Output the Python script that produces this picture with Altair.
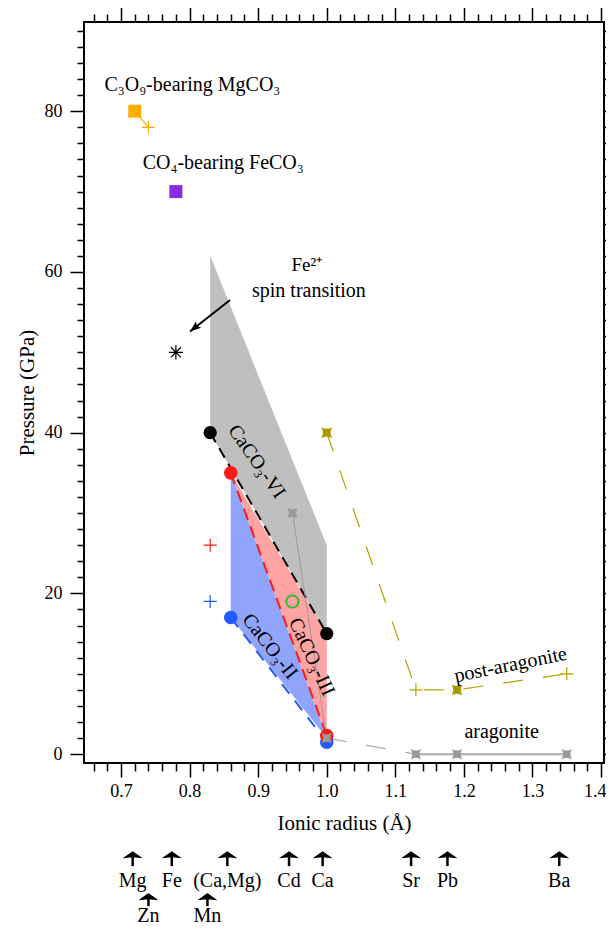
import altair as alt
import pandas as pd

FONT = "Liberation Serif"

# ---------------- data ----------------
# stability fields: x = ionic radius (Å), upper / lower pressure (GPa)
gray_x = [0.83, 1.00]; gray_hi = [62, 26]; gray_lo = [40, 15]
pink_x = [0.86, 1.00]; pink_hi = [35, 15]; pink_lo = [35, 2]
blue_x = [0.86, 1.00]; blue_hi = [35, 2];  blue_lo = [17, 2]

# lines
orange_lx = [0.72, 0.74]; orange_ly = [80, 78]
black_lx = [0.83, 1.00];  black_ly = [40, 15]
red_lx = [0.86, 1.00];    red_ly = [35, 2.3]
blue_lx = [0.86, 1.00];   blue_ly = [17, 1.5]
gthin_x = [0.95, 1.00];   gthin_y = [30, 2]
gdash_x = [1.00, 1.13];   gdash_y = [2, 0]
arag_x = [1.13, 1.19, 1.35]; arag_y = [0, 0, 0]
post_x = [1.00, 1.13, 1.19, 1.35]; post_y = [40, 8, 8, 10]

# points
mgco3_sq = ([0.72], [80]); mgco3_plus = ([0.74], [78])
feco3_sq = ([0.78], [70]); fe_aster = ([0.78], [50])
black_pts = ([0.83, 1.00], [40, 15])
red_pts = ([0.86, 1.00], [35, 2.3])
blue_pts = ([0.86, 1.00], [17, 1.5])
green_ring = ([0.95], [19])
red_plus = ([0.83], [26]); blue_plus = ([0.83], [19])
gray_star = ([0.95, 1.00, 1.13, 1.19, 1.35], [30, 2, 0, 0, 0])
olive_star = ([1.00, 1.19], [40, 8])
olive_plus = ([1.13, 1.35], [8, 10])

# spin-transition arrow (from, to)
spin_x = [0.859, 0.8006]; spin_y = [56.5, 52.6]

# cations (ionic radius read under the axis)
row1_names = ["Mg", "Fe", "(Ca,Mg)", "Cd", "Ca", "Sr", "Pb", "Ba"]
row1_x = [0.717, 0.774, 0.855, 0.945, 0.994, 1.123, 1.176, 1.339]
row2_names = ["Zn", "Mn"]
row2_x = [0.740, 0.826]

x_ticks = [round(0.66 + 0.02 * i, 2) for i in range(38)]
y_ticks = list(range(0, 92, 2))

# ---------------- scales / helpers ----------------
XS = alt.Scale(domain=[0.646, 1.4043], nice=False, zero=False)
YS = alt.Scale(domain=[-1.1, 91.1], nice=False, zero=False)

STAR = "M-1,-1 Q0,-0.4 1,-1 Q0.4,0 1,1 Q0,0.4 -1,1 Q-0.4,0 -1,-1 Z"
PLUS = "M-1,0 L1,0 M0,-1 L0,1"
ASTER = "M-1,0 L1,0 M0,-1 L0,1 M-0.71,-0.71 L0.71,0.71 M-0.71,0.71 L0.71,-0.71"
ARROW_UP = "M0,0 L1,0.72 L0,0.62 L-1,0.72 Z"
SPIN_HEAD = "M0,0 L0.6,1.6 L0,1.25 L-0.6,1.6 Z"


def X(f="x", axis=None):
    return alt.X(f, type="quantitative", scale=XS, axis=axis)


def Y(f="y", axis=None):
    return alt.Y(f, type="quantitative", scale=YS, axis=axis)


def area(xv, hi, lo, color):
    df = pd.DataFrame({"x": xv, "hi": hi, "lo": lo})
    return alt.Chart(df).mark_area(color=color, opacity=1, strokeWidth=0).encode(
        x=X(), y=Y("hi"), y2=alt.Y2("lo"))


def line(xv, yv, color, width, dash=None):
    mk = dict(color=color, strokeWidth=width)
    if dash:
        mk["strokeDash"] = dash
    df = pd.DataFrame({"x": xv, "y": yv, "o": list(range(len(xv)))})
    return alt.Chart(df).mark_line(**mk).encode(x=X(), y=Y(), order="o:Q")


def pts(xy, **mk):
    df = pd.DataFrame({"x": xy[0], "y": xy[1]})
    return alt.Chart(df).mark_point(**mk).encode(x=X(), y=Y())


def txt(xv, yv, t, size=20, angle=0):
    df = pd.DataFrame({"x": [xv], "y": [yv], "t": [t]})
    mk = dict(font=FONT, fontSize=size, color="black", align="center", baseline="middle")
    if angle:
        mk["angle"] = angle
    return alt.Chart(df).mark_text(**mk).encode(x=X(), y=Y(), text="t:N")


ORANGE = "#ffad00"
PURPLE = "#8a2be2"
RED = "#ff1a1a"
BLUE = "#1f5cff"
GREEN = "#22bb22"
GRAY = "#9a9a9a"
OLIVE = "#b3a300"

layers = []
# axes carriers
ax_df = pd.DataFrame({"x": [1.0], "y": [0.0]})
common = dict(grid=False, domain=False, tickColor="black", tickWidth=1.5,
              labelFont=FONT, labelFontSize=18, labelColor="black",
              titleFont=FONT, titleFontSize=21, titleColor="black",
              titleFontWeight="normal", labelOverlap=False, labelBound=False, labelFlush=False)
xmaj = "abs(datum.value*10 - round(datum.value*10)) < 0.001"
ymaj = "datum.value % 20 == 0"
last = "datum.value > 1.39"
axis_bl = alt.Chart(ax_df).mark_point(opacity=0).encode(
    x=X(axis=alt.Axis(orient="bottom", values=x_ticks, title="Ionic radius (Å)",
                      tickSize={"condition": {"test": xmaj, "value": 14}, "value": 8},
                      labelExpr=f"({xmaj}) ? format(datum.value, '.1f') : ''",
                      labelAlign={"condition": {"test": last, "value": "right"}, "value": "center"},
                      labelOffset={"condition": {"test": last, "value": 5}, "value": 0},
                      labelPadding=5, titlePadding=12, **common)),
    y=Y(axis=alt.Axis(orient="left", values=y_ticks, title="Pressure (GPa)",
                      tickSize={"condition": {"test": ymaj, "value": 14}, "value": 7},
                      labelExpr=f"({ymaj}) ? datum.label : ''",
                      labelPadding=8, titlePadding=7, **common)))
axis_tr = alt.Chart(ax_df).mark_point(opacity=0).encode(
    x=X(axis=alt.Axis(orient="top", values=x_ticks, title=None, labels=False,
                      tickSize={"condition": {"test": xmaj, "value": 15}, "value": 8},
                      **common)),
    y=Y(axis=alt.Axis(orient="right", values=y_ticks, title=None, labels=False,
                      tickSize=3, **common)))
layers += [axis_bl, axis_tr]

# fields
layers += [area(gray_x, gray_hi, gray_lo, "#bfbfbf"),
           area(pink_x, pink_hi, pink_lo, "#ffa3a3"),
           area(blue_x, blue_hi, blue_lo, "#91a4fb")]

# lines
layers += [line(orange_lx, orange_ly, ORANGE, 1.2),
           line(black_lx, black_ly, "black", 2, [11, 7]),
           line(red_lx, red_ly, RED, 2, [12, 7]),
           line(blue_lx, blue_ly, BLUE, 2, [12, 9]),
           line(gthin_x, gthin_y, GRAY, 1),
           line(gdash_x, gdash_y, GRAY, 1, [20, 20]),
           line(arag_x, arag_y, "#b8b8b8", 2.5),
           line(post_x, post_y, OLIVE, 1.2, [20, 20])]

# points
layers += [pts(mgco3_sq, shape="square", filled=True, color=ORANGE, size=169, opacity=1),
           pts(mgco3_plus, shape=PLUS, filled=False, color=ORANGE, size=169, strokeWidth=1.2, opacity=1),
           pts(feco3_sq, shape="square", filled=True, color=PURPLE, size=169, opacity=1),
           pts(fe_aster, shape=ASTER, filled=False, color="black", size=200, strokeWidth=1.2, opacity=1),
           pts(black_pts, shape="circle", filled=True, color="black", size=175, opacity=1),
           pts(blue_pts, shape="circle", filled=True, color=BLUE, size=185, opacity=1),
           pts(red_pts, shape="circle", filled=True, color=RED, size=185, opacity=1),
           pts(green_ring, shape="circle", filled=False, color=GREEN, size=150, strokeWidth=1.8, opacity=1),
           pts(red_plus, shape=PLUS, filled=False, color=RED, size=169, strokeWidth=1.2, opacity=1),
           pts(blue_plus, shape=PLUS, filled=False, color=BLUE, size=169, strokeWidth=1.2, opacity=1),
           pts(gray_star, shape=STAR, filled=True, color=GRAY, size=110, opacity=1),
           pts(olive_star, shape=STAR, filled=True, color="#aa9a00", size=120, opacity=1),
           pts(olive_plus, shape=PLUS, filled=False, color=OLIVE, size=169, strokeWidth=1.2, opacity=1)]

# spin transition arrow
layers += [line(spin_x, spin_y, "black", 2),
           alt.Chart(pd.DataFrame({"x": [spin_x[1]], "y": [spin_y[1]]})).mark_point(
               shape=SPIN_HEAD, filled=True, color="black", size=190, angle=231.5, opacity=1
           ).encode(x=X(), y=Y())]

# labels
layers += [txt(0.804, 83.2, "C₃O₉-bearing MgCO₃"),
           txt(0.849, 73.5, "CO₄-bearing FeCO₃"),
           txt(0.971, 60.9, "Fe²⁺", size=19),
           txt(0.974, 57.6, "spin transition"),
           txt(0.898, 36.4, "CaCO₃-VI", angle=55),
           txt(0.978, 12.1, "CaCO₃-III", angle=65),
           txt(0.917, 13.4, "CaCO₃-II", angle=52),
           txt(1.268, 11.1, "post-aragonite", angle=348.5),
           txt(1.255, 2.8, "aragonite")]

# cation arrows under the axis (tip, stem top, stem bottom, label centre)
ROW_Y = [(-12.07, -12.69, -13.93, -15.8), (-17.29, -17.92, -18.91, -20.16)]
for names, xv, (tip, s0, s1, lab) in [(row1_names, row1_x, ROW_Y[0]), (row2_names, row2_x, ROW_Y[1])]:
    n = len(xv)
    df = pd.DataFrame({"x": xv, "tip": [tip] * n, "s0": [s0] * n, "s1": [s1] * n,
                       "lab": [lab] * n, "name": names})
    base = alt.Chart(df)
    layers += [base.mark_point(shape=ARROW_UP, filled=True, color="black", size=400, opacity=1,
                               strokeWidth=0.5).encode(x=X(), y=Y("tip")),
               base.mark_rule(color="black", strokeWidth=2.5).encode(x=X(), y=Y("s0"), y2=alt.Y2("s1")),
               base.mark_text(font=FONT, fontSize=20, color="black", align="center", baseline="middle").encode(
                   x=X(), y=Y("lab"), text="name:N")]

chart = alt.layer(*layers).resolve_axis(x="independent", y="independent").properties(
    width=520, height=741,
    autosize=alt.AutoSizeParams(type="none"),
    padding={"left": 76, "top": 14, "right": 2, "bottom": 163},
).configure_view(stroke="black", strokeWidth=2)

chart.save("out.html", embed_options={"renderer": "svg", "actions": False})
